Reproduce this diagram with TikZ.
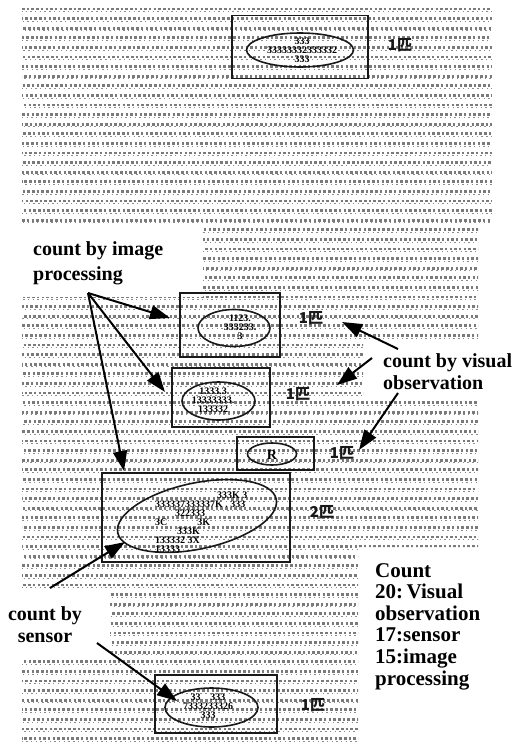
\documentclass[tikz,border=0pt]{standalone}
\usepackage{fontspec}
\setmainfont{Liberation Serif}
\newfontfamily\cjkfont{Noto Sans CJK JP}
\usetikzlibrary{arrows.meta,shapes.geometric}
\begin{document}
\begin{tikzpicture}[x=1pt,y=-1pt,
  scanrow/.style={draw=black!52, line width=2.8pt, dash pattern=on 2.5pt off 2.2pt},
  scanrowthin/.style={draw=black!45, line width=0.9pt, dash pattern=on 1.4pt off 3.3pt},
  framebox/.style={draw=black!90, line width=1.8pt, rectangle, inner sep=0pt},
  ringmark/.style={draw=black!90, line width=1.6pt, ellipse, inner sep=0pt},
  scribble/.style={font=\bfseries\fontsize{10}{9}\selectfont, inner sep=0pt, text=black},
  tally/.style={font=\cjkfont\bfseries\fontsize{15}{15}\selectfont, inner sep=0pt, text=black!90},
  callout/.style={font=\bfseries\fontsize{20}{25}\selectfont, inner sep=0pt},
  pointer/.style={line width=2pt, -{Triangle[length=20pt,width=14pt]}},
]
\useasboundingbox (0,0) rectangle (514,747);
\fill[white] (0,0) rectangle (514,747);

% scanned text rows of the field sheet
\begin{scope}
  \clip (22,5) -- (492,5) -- (492,225) -- (478,225) -- (478,342) -- (363,342)
     -- (363,400) -- (478,400) -- (478,547) -- (358,547) -- (358,745) -- (22,745)
     -- (22,655) -- (110,655) -- (110,590) -- (22,590) -- (22,297) -- (203,297)
     -- (203,225) -- (22,225) -- cycle;
  \foreach \r [evaluate=\r as \yy using 9+9.6*\r,
               evaluate=\r as \ph using {mod(\r*1.7,4.7)},
               evaluate=\r as \pq using {mod(\r*2.9+1.1,4.7)}] in {0,...,77}
  {
    \draw[scanrow, dash phase=\ph pt] (22,\yy) -- (492,\yy);
    \draw[scanrowthin, dash phase=\pq pt] (22,\yy+2.6) -- (492,\yy+2.6);
  }
\end{scope}

% marked entries: frame, ring and count
\node[framebox, minimum width=136pt, minimum height=63pt] (b1) at (300,47) {};
\node[ringmark, minimum width=107pt, minimum height=34pt] (e1) at (300,50) {};
\node[scribble, align=center] (s1) at (302,50) {333\\33333332333332\\333};
\node[tally] (n1) at (400,45) {1匹};

\node[framebox, minimum width=100pt, minimum height=64pt] (b2) at (230,325) {};
\node[ringmark, minimum width=72pt, minimum height=37pt] (e2) at (234,328) {};
\node[scribble, align=center] (s2) at (240,327) {1123.\\333233.\\3};
\node[tally] (n2) at (311,318) {1匹};

\node[framebox, minimum width=98pt, minimum height=59pt] (b3) at (221,397.5) {};
\node[ringmark, minimum width=73pt, minimum height=38pt] (e3) at (218.5,401) {};
\node[scribble, align=center] (s3) at (213,400) {1333.3\\13333333.\\133332};
\node[tally] (n3) at (298,394) {1匹};

\node[framebox, minimum width=77pt, minimum height=33pt] (b4) at (275.5,453.5) {};
\node[ringmark, minimum width=49pt, minimum height=22pt] (e4) at (272,454) {};
\node[scribble, font=\bfseries\fontsize{14}{14}\selectfont] (s4) at (272,455) {R};
\node[tally] (n4) at (342,453) {1匹};

\node[framebox, minimum width=188pt, minimum height=89pt] (b5) at (196,517.5) {};
\node[ringmark, minimum width=162pt, minimum height=66pt, rotate=12] (e5) at (197,516) {};
\node[scribble, align=left, anchor=north west] (s5) at (155,492)
  {\hspace*{62pt}333K 3\\333337333337K . 333\\\hspace*{20pt}322333\\3C\hspace*{30pt}3K\\\hspace*{22pt}333K\\133332 3X\\13333};
\node[tally] (n5) at (322,512) {2匹};

\node[framebox, minimum width=122pt, minimum height=58pt] (b6) at (216,704) {};
\node[ringmark, minimum width=93pt, minimum height=39pt] (e6) at (211.5,707.5) {};
\node[scribble, align=center] (s6) at (208,706) {33\quad 333\\7333233326\\333};
\node[tally] (n6) at (313,705) {1匹};

% callouts
\node[callout, align=left, anchor=north west] (lip) at (33,241.5) {count by image\\processing};
\node[callout, align=left, anchor=north west, font=\bfseries\fontsize{20}{22}\selectfont] (lvo) at (383,353.5) {count by visual\\observation};
\node[callout, align=center, anchor=north, font=\bfseries\fontsize{20}{22}\selectfont] (lse) at (45,606.5) {count by\\sensor};
\node[callout, align=left, anchor=north west, font=\bfseries\fontsize{21}{21.6}\selectfont] (lkey) at (375,563)
  {Count\\20:\,Visual\\observation\\17:sensor\\15:image\\processing};

% arrow ends
\coordinate (ipsrc) at (88,293);
\coordinate (ip1) at (170,318);
\coordinate (ip2) at (165,392);
\coordinate (ip3) at (124,471);
\coordinate (vo1s) at (398,349);
\coordinate (vo1) at (342,322);
\coordinate (vo2s) at (372,358);
\coordinate (vo2) at (337,385);
\coordinate (vo3s) at (398,393);
\coordinate (vo3) at (359,450);
\coordinate (se1s) at (50,588);
\coordinate (se1) at (125,542);
\coordinate (se2s) at (97,643);
\coordinate (se2) at (177,701);

\draw[pointer] (ipsrc) -- (ip1);
\draw[pointer] (ipsrc) -- (ip2);
\draw[pointer] (ipsrc) -- (ip3);
\draw[pointer] (vo1s) -- (vo1);
\draw[pointer] (vo2s) -- (vo2);
\draw[pointer] (vo3s) -- (vo3);
\draw[pointer] (se1s) -- (se1);
\draw[pointer] (se2s) -- (se2);
\end{tikzpicture}
\end{document}
